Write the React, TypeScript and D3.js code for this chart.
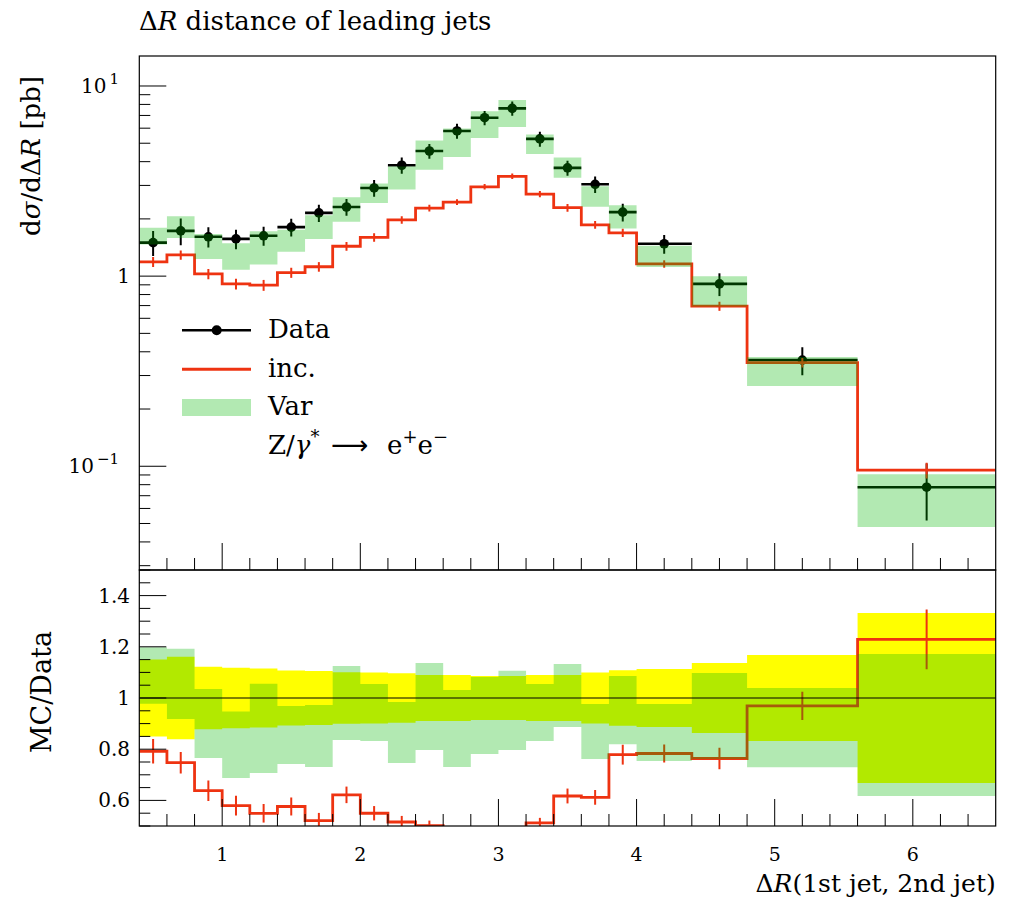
import React from 'react';
import * as d3 from 'd3';

// ---------- data ----------
const binEdges = [0.4, 0.6, 0.8, 1.0, 1.2, 1.4, 1.6, 1.8, 2.0, 2.2, 2.4, 2.6, 2.8, 3.0, 3.2, 3.4, 3.6, 3.8, 4.0, 4.4, 4.8, 5.6, 6.6];
const dataVals = [1.50, 1.73, 1.61, 1.57, 1.63, 1.81, 2.15, 2.31, 2.91, 3.83, 4.55, 5.80, 6.81, 7.63, 5.27, 3.71, 3.04, 2.17, 1.48, 0.91, 0.362, 0.0776];
const dataRelErr = [0.15, 0.161, 0.122, 0.118, 0.115, 0.107, 0.105, 0.101, 0.10, 0.097, 0.09, 0.09, 0.086, 0.086, 0.09, 0.09, 0.10, 0.108, 0.113, 0.137, 0.168, 0.332];
const incVals = [1.188, 1.293, 1.027, 0.910, 0.896, 1.043, 1.12, 1.436, 1.60, 1.975, 2.28, 2.45, 2.95, 3.35, 2.70, 2.29, 1.86, 1.69, 1.159, 0.695, 0.351, 0.0954];
const incRelErr = [0.06, 0.056, 0.063, 0.066, 0.066, 0.061, 0.058, 0.052, 0.051, 0.046, 0.04, 0.035, 0.033, 0.033, 0.038, 0.047, 0.047, 0.05, 0.045, 0.055, 0.057, 0.095];
const varHi = [1.797, 2.062, 1.666, 1.487, 1.720, 1.754, 2.092, 2.599, 3.070, 3.769, 5.173, 5.980, 7.368, 8.439, 5.560, 4.203, 2.970, 2.357, 1.446, 0.999, 0.376, 0.0909];
const varLo = [1.466, 1.588, 1.232, 1.079, 1.152, 1.343, 1.570, 1.931, 2.421, 2.857, 3.626, 4.234, 5.319, 6.081, 4.385, 3.291, 2.316, 1.779, 1.116, 0.693, 0.264, 0.0479];

const xMajorTicks = [1, 2, 3, 4, 5, 6];
const yTopMajor = [0.1, 1, 10];
const yTopLabels = [['10', '−1'], ['1', ''], ['10', '1']];
const yRatMajor = [0.6, 0.8, 1.0, 1.2, 1.4];
const yRatLabels = ['0.6', '0.8', '1', '1.2', '1.4'];

// ---------- layout ----------
const W = 1012, H = 907;
const L = 139.3, R = 995.7, T = 56, MID = 570, B = 826;
const FONT = 'DejaVu Serif';
const RED = '#ee3311';
const GREEN = 'rgb(0,182,0)';
const GREEN_OP = 0.3;

const x = d3.scaleLinear().domain([0.4, 6.6]).range([L, R]);
const yTop = d3.scaleLog().domain([0.02847, 14.38]).range([MID, T]);
const yRat = d3.scaleLinear().domain([0.5, 1.5]).range([B, MID]);

const nb = dataVals.length;
const bins = d3.range(nb).map(i => ({
  x0: binEdges[i], x1: binEdges[i + 1], xc: (binEdges[i] + binEdges[i + 1]) / 2,
  d: dataVals[i], de: dataVals[i] * dataRelErr[i],
  inc: incVals[i], ie: incVals[i] * incRelErr[i],
  vh: varHi[i], vl: varLo[i],
}));

function stepPts(vals: number[]) {
  const pts: [number, number][] = [];
  vals.forEach((v, i) => { pts.push([binEdges[i], v]); pts.push([binEdges[i + 1], v]); });
  return pts;
}
function bandPts(hi: number[], lo: number[]) {
  const pts: { x: number; hi: number; lo: number }[] = [];
  hi.forEach((h, i) => { pts.push({ x: binEdges[i], hi: h, lo: lo[i] }); pts.push({ x: binEdges[i + 1], hi: h, lo: lo[i] }); });
  return pts;
}

export default function App() {
  const lineTop = d3.line<[number, number]>().x(p => x(p[0])).y(p => yTop(p[1]));
  const lineRat = d3.line<[number, number]>().x(p => x(p[0])).y(p => yRat(p[1]));
  const areaTop = d3.area<{ x: number; hi: number; lo: number }>().x(p => x(p.x)).y0(p => yTop(p.lo)).y1(p => yTop(p.hi));
  const areaRat = d3.area<{ x: number; hi: number; lo: number }>().x(p => x(p.x)).y0(p => yRat(p.lo)).y1(p => yRat(p.hi));

  const ratInc = bins.map(b => b.inc / b.d);
  const ratIncErr = bins.map(b => b.ie / b.d);
  const ratVarHi = bins.map(b => b.vh / b.d);
  const ratVarLo = bins.map(b => b.vl / b.d);
  const yelHi = dataRelErr.map(e => 1 + e);
  const yelLo = dataRelErr.map(e => 1 - e);

  const yTopMinor: number[] = [];
  [-2, -1, 0, 1].forEach(k => { for (let m = 2; m <= 9; m++) { const v = m * Math.pow(10, k); if (v > 0.02847 && v < 14.38) yTopMinor.push(v); } });
  const yRatMinor = d3.range(0, 21).map(i => 0.5 + i * 0.05).filter(v => !yRatMajor.some(m => Math.abs(m - v) < 1e-6));
  const xMinor = d3.range(1, 31).map(i => 0.4 + i * 0.2).filter(v => v < 6.6 - 1e-6 && Math.abs(v - Math.round(v)) > 1e-6);

  const tick = { stroke: '#000', strokeWidth: 1 };

  return (
    <svg width={W} height={H} style={{ position: 'absolute', left: 0, top: 0, background: '#fff' }} fontFamily={FONT}>
      <defs>
        <clipPath id="clipTop"><rect x={L} y={T} width={R - L} height={MID - T} /></clipPath>
        <clipPath id="clipRat"><rect x={L} y={MID} width={R - L} height={B - MID} /></clipPath>
      </defs>
      <rect x={0} y={0} width={W} height={H} fill="#fff" />

      {/* ---------- upper panel ---------- */}
      <g clipPath="url(#clipTop)">
        {bins.map((b, i) => (
          <g key={'d' + i}>
            <line x1={x(b.x0)} x2={x(b.x1)} y1={yTop(b.d)} y2={yTop(b.d)} stroke="#000" strokeWidth={2.6} />
            <line x1={x(b.xc)} x2={x(b.xc)} y1={yTop(b.d + b.de)} y2={yTop(Math.max(b.d - b.de, 1e-4))} stroke="#000" strokeWidth={2} />
            <circle cx={x(b.xc)} cy={yTop(b.d)} r={4.8} fill="#000" />
          </g>
        ))}
        <path d={lineTop(stepPts(incVals)) || ''} fill="none" stroke={RED} strokeWidth={2.8} />
        {bins.map((b, i) => (
          <line key={'ie' + i} x1={x(b.xc)} x2={x(b.xc)} y1={yTop(b.inc + b.ie)} y2={yTop(b.inc - b.ie)} stroke={RED} strokeWidth={2} />
        ))}
        <path d={areaTop(bandPts(varHi, varLo)) || ''} fill={GREEN} fillOpacity={GREEN_OP} />
      </g>

      {yTopMajor.map(v => <line key={'ytM' + v} x1={L} x2={L + 27} y1={yTop(v)} y2={yTop(v)} {...tick} />)}
      {yTopMinor.map(v => <line key={'ytm' + v} x1={L} x2={L + 11} y1={yTop(v)} y2={yTop(v)} {...tick} />)}
      {xMajorTicks.map(v => <line key={'xtM' + v} x1={x(v)} x2={x(v)} y1={MID} y2={MID - 27} {...tick} />)}
      {xMinor.map(v => <line key={'xtm' + v} x1={x(v)} x2={x(v)} y1={MID} y2={MID - 12} {...tick} />)}
      <rect x={L} y={T} width={R - L} height={MID - T} fill="none" stroke="#000" strokeWidth={1.2} />

      {yTopMajor.map((v, i) => (
        <text key={'ytl' + v} x={yTopLabels[i][1] ? 119 : 130} y={yTop(v)} dy="0.35em" textAnchor="end" fontSize={20}>
          {yTopLabels[i][0]}
          {yTopLabels[i][1] && <tspan dy="-0.6em" dx="3" fontSize={15}>{yTopLabels[i][1]}</tspan>}
        </text>
      ))}

      {/* ---------- lower panel ---------- */}
      <g clipPath="url(#clipRat)">
        <path d={areaRat(bandPts(yelHi, yelLo)) || ''} fill="#ffff00" />
        <path d={lineRat(stepPts(ratInc)) || ''} fill="none" stroke={RED} strokeWidth={2.8} />
        {bins.map((b, i) => (
          <line key={'re' + i} x1={x(b.xc)} x2={x(b.xc)} y1={yRat(ratInc[i] + ratIncErr[i])} y2={yRat(ratInc[i] - ratIncErr[i])} stroke={RED} strokeWidth={2} />
        ))}
        <path d={areaRat(bandPts(ratVarHi, ratVarLo)) || ''} fill={GREEN} fillOpacity={GREEN_OP} />
        <line x1={L} x2={R} y1={yRat(1)} y2={yRat(1)} stroke="#000" strokeWidth={1} />
      </g>
      {yRatMajor.map(v => <line key={'yrM' + v} x1={L} x2={L + 27} y1={yRat(v)} y2={yRat(v)} {...tick} />)}
      {yRatMinor.map(v => <line key={'yrm' + v} x1={L} x2={L + 11} y1={yRat(v)} y2={yRat(v)} {...tick} />)}
      {xMajorTicks.map(v => <line key={'xbM' + v} x1={x(v)} x2={x(v)} y1={B} y2={B - 27} {...tick} />)}
      {xMinor.map(v => <line key={'xbm' + v} x1={x(v)} x2={x(v)} y1={B} y2={B - 12} {...tick} />)}
      <rect x={L} y={MID} width={R - L} height={B - MID} fill="none" stroke="#000" strokeWidth={1.2} />
      {yRatMajor.map((v, i) => (
        <text key={'yrl' + v} x={130} y={yRat(v)} dy="0.35em" textAnchor="end" fontSize={20}>{yRatLabels[i]}</text>
      ))}
      {xMajorTicks.map(v => (
        <text key={'xl' + v} x={x(v)} y={861} textAnchor="middle" fontSize={19}>{v}</text>
      ))}

      {/* ---------- titles & labels ---------- */}
      <text x={139} y={30} fontSize={26}>Δ<tspan fontStyle="italic">R</tspan> distance of leading jets</text>
      <text transform="translate(40,76) rotate(-90)" textAnchor="end" fontSize={26}>
        d<tspan fontStyle="italic">σ</tspan>/dΔ<tspan fontStyle="italic">R</tspan> [pb]
      </text>
      <text transform="translate(51,692) rotate(-90)" textAnchor="middle" fontSize={27}>MC/Data</text>
      <text x={995.7} y={892} textAnchor="end" fontSize={25}>Δ<tspan fontStyle="italic">R</tspan>(1st jet, 2nd jet)</text>

      {/* ---------- legend ---------- */}
      <line x1={182} x2={251} y1={330.3} y2={330.3} stroke="#000" strokeWidth={2.6} />
      <circle cx={216.7} cy={330.3} r={5} fill="#000" />
      <text x={268} y={338} fontSize={26}>Data</text>
      <line x1={182} x2={251} y1={369.3} y2={369.3} stroke={RED} strokeWidth={3} />
      <text x={268} y={377} fontSize={26}>inc.</text>
      <rect x={182} y={399} width={69} height={17} fill={GREEN} fillOpacity={GREEN_OP} />
      <text x={268} y={415} fontSize={26}>Var</text>
      <text x={268} y={454} fontSize={26}>
        Z/<tspan fontStyle="italic">γ</tspan><tspan dy="-11" fontSize={18}>*</tspan>
        <tspan x={331} dy="11" fontSize={26} fontFamily="DejaVu Sans">⟶</tspan>
        <tspan x={387} fontSize={26}>e</tspan><tspan dy="-11" fontSize={18}>+</tspan>
        <tspan dy="11">e</tspan><tspan dy="-11" fontSize={18}>−</tspan>
      </text>
    </svg>
  );
}
